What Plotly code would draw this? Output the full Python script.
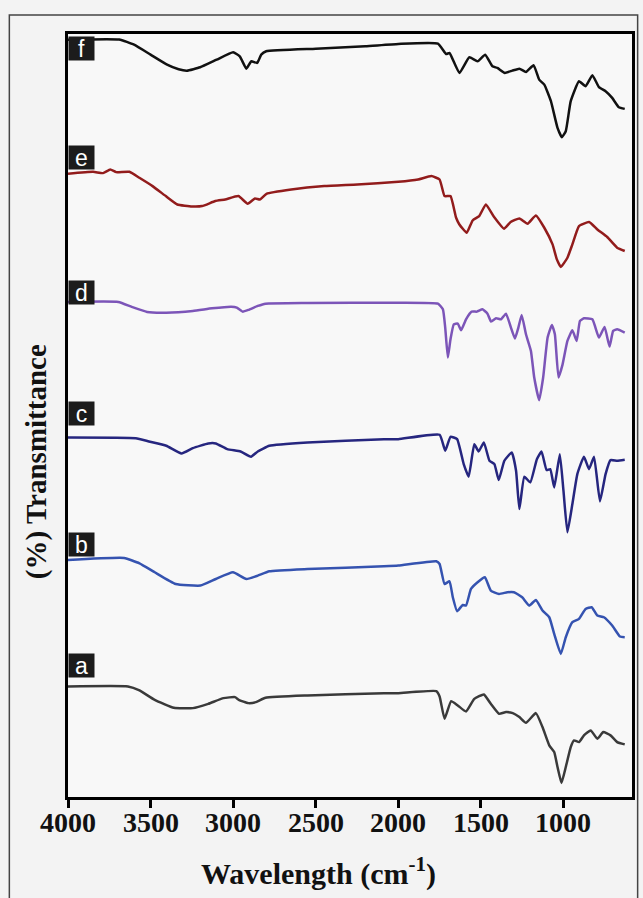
import plotly.graph_objects as go

# ---- data (wavenumber cm^-1, offset transmittance, arbitrary units) ----
wn_f = [4000, 3690, 3600, 3500, 3400, 3330, 3280, 3200, 3100, 3000, 2960, 2920, 2890, 2855, 2830, 2800,
        2500, 2200, 2000, 1760, 1710, 1690, 1630, 1570, 1520, 1474, 1430, 1400, 1355, 1310, 1267, 1227,
        1181, 1147, 1116, 1076, 1036, 1010, 986, 956, 906, 866, 825, 785, 745, 705, 665, 629]
t_f = [758.3, 758.5, 753.3, 743.3, 733.3, 728.7, 727.3, 730.7, 738.3, 745.7, 741.7, 729.3, 736.7, 735, 743.3, 746.7,
       749.3, 751.7, 754, 754.3, 744, 745, 725, 740.7, 736.7, 743.3, 731.7, 730, 725, 727.3, 729.3, 726,
       732.7, 718.3, 713.3, 696.7, 670, 660.7, 666.7, 696.7, 716.7, 711.7, 722.7, 710.7, 706.7, 700, 690.7, 689]

wn_e = [4000, 3848, 3788, 3744, 3708, 3628, 3568, 3488, 3408, 3338, 3248, 3188, 3108, 3048, 2968, 2912,
        2868, 2838, 2798, 2648, 2448, 2248, 2000, 1880, 1800, 1750, 1720, 1684, 1650, 1630, 1586, 1550,
        1510, 1470, 1420, 1360, 1320, 1267, 1217, 1167, 1116, 1066, 1040, 1016, 976, 946, 906, 845, 795,
        735, 675, 629]
t_e = [624, 626, 624.7, 628.3, 625.7, 626, 620, 611.7, 601.7, 593.3, 591.3, 591.7, 596.7, 598.3, 601.7, 594,
       599.3, 598.3, 604, 608.3, 611.7, 613.3, 616, 618.3, 621.7, 618.3, 601.7, 601.7, 580, 573.3, 565, 577.3,
       581.7, 593.3, 580.7, 569, 575.7, 579.3, 574, 582.3, 570, 553.3, 538.3, 530.7, 540, 553.3, 571.7, 575.7, 568.3,
       560.7, 550, 546.7]

wn_d = [4000, 3695, 3614, 3521, 3405, 3244, 3128, 3012, 2978, 2943, 2908, 2851, 2804, 2550, 2000, 1760,
        1730, 1716, 1700, 1684, 1664, 1640, 1620, 1590, 1556, 1524, 1490, 1460, 1438, 1408, 1378, 1348,
        1318, 1294, 1273, 1253, 1227, 1197, 1177, 1147, 1123, 1096, 1070, 1052, 1030, 1006, 976, 946,
        920, 900, 876, 825, 785, 751, 721, 699, 675, 629]
t_d = [495.7, 495.7, 490.7, 485.7, 485, 486.7, 489.3, 491, 490, 486, 487.7, 491.7, 494, 494.7, 495, 494,
       488.3, 470, 440, 458.3, 473.3, 474, 467.3, 478.3, 486, 486, 488.3, 484, 476, 479.3, 478.3, 484,
       470, 459, 470, 482.7, 463.3, 446.7, 420, 397.3, 420, 460, 472.7, 463.3, 420, 432.7, 456.7, 467.3,
       456.7, 476.7, 479.3, 478.3, 460, 470.7, 451, 466.7, 468.3, 465]

wn_c = [4000, 3590, 3510, 3405, 3313, 3244, 3151, 3105, 3036, 2955, 2892, 2851, 2781, 2550, 2087, 2000,
        1750, 1716, 1684, 1644, 1604, 1574, 1540, 1514, 1482, 1448, 1418, 1392, 1358, 1313, 1287, 1267,
        1237, 1201, 1161, 1133, 1102, 1080, 1056, 1022, 1000, 976, 946, 916, 876, 845, 815, 779, 745,
        715, 675, 629]
t_c = [360, 359.3, 356, 351.7, 344, 349.3, 354, 354, 348.3, 346, 340.7, 346, 351.7, 355, 358.3, 358.3,
       362.7, 346.7, 360.7, 358.3, 333.3, 320.7, 353.3, 346, 355, 336.7, 333.3, 317.3, 336.7, 345, 326.7, 288.3,
       320.7, 315, 338.3, 346, 327.3, 328.3, 310, 343.3, 306.7, 265, 293.3, 323.3, 340.7, 328.3, 340.7, 296, 323.3,
       337.3, 336.7, 337.7]

wn_b = [4000, 3660, 3567, 3475, 3348, 3198, 3105, 3001, 2920, 2851, 2781, 2550, 2087, 2000, 1770, 1750,
        1720, 1690, 1670, 1644, 1610, 1590, 1560, 1520, 1476, 1440, 1390, 1340, 1300, 1250, 1207, 1167,
        1127, 1086, 1056, 1016, 986, 946, 906, 866, 829, 795, 755, 705, 658, 629]
t_b = [237.3, 239.3, 234, 225, 213.3, 211.7, 218.3, 225, 218.3, 221.7, 226, 228.3, 231, 231.7, 236, 233.3,
       213.3, 216, 200, 186, 192.3, 191.7, 208.3, 215, 220, 206.7, 203.3, 205, 205, 200, 191.7, 197.3,
       186.7, 180, 163.3, 143.3, 160, 175, 178.3, 188.3, 190, 181.7, 180, 171.7, 160.7, 160]

wn_a = [4000, 3637, 3567, 3475, 3359, 3244, 3151, 3059, 2989, 2966, 2908, 2862, 2804, 2550, 2087, 2000,
        1770, 1750, 1720, 1680, 1640, 1590, 1540, 1482, 1440, 1390, 1348, 1307, 1267, 1227, 1167, 1127,
        1086, 1056, 1036, 1012, 986, 956, 936, 906, 876, 835, 795, 759, 715, 675, 629]
t_a = [110.7, 110.7, 106.7, 97.3, 89.3, 89, 93.3, 99, 100, 97.3, 94, 95, 99.3, 101.7, 104, 104,
       106, 100.7, 78.3, 96, 91.7, 85.7, 98.3, 102.7, 93.3, 83.3, 85, 84, 80, 74.3, 84, 70,
       51.7, 45, 30, 14, 30, 50, 56.7, 55, 61.7, 66.7, 58.3, 65, 61.7, 55, 52.7]

series = [
    ("a", wn_a, t_a, "#3a3a3a", 131.5),
    ("b", wn_b, t_b, "#3553b0", 253),
    ("c", wn_c, t_c, "#26267f", 384),
    ("d", wn_d, t_d, "#7c55b8", 505),
    ("e", wn_e, t_e, "#921c1c", 640),
    ("f", wn_f, t_f, "#111111", 749.5),
]

tick_vals = [4000, 3500, 3000, 2500, 2000, 1500, 1000]
tick_text = ["4000", "3500", "3000", "2500", "2000", "1500", "1000"]

serif_bold = dict(family="Liberation Serif", color="#111", weight="bold")

fig = go.Figure()
for name, xs, ys, col, _ in series:
    fig.add_trace(go.Scatter(x=xs, y=ys, mode="lines", name=name,
                             line=dict(color=col, width=2.5, shape="spline", smoothing=0.4),
                             showlegend=False, hoverinfo="skip"))

for name, xs, ys, col, ly in series:
    fig.add_annotation(x=4000, y=ly, xref="x", yref="y", text=name, showarrow=False,
                       xanchor="left", yanchor="middle", bgcolor="#1c1c1c",
                       width=25, height=23, borderpad=0, align="center",
                       font=dict(family="Liberation Sans", size=23, color="white"))

# tick labels placed close under the axis as in the reference
for v, t in zip(tick_vals, tick_text):
    fig.add_annotation(x=v, y=-0.033, xref="x", yref="paper", text=t, showarrow=False,
                       xanchor="center", yanchor="middle", font=dict(size=28, **serif_bold))

# axis titles
fig.add_annotation(x=0.444, y=-0.097, xref="paper", yref="paper", text="Wavelength (cm<sup>-1</sup>)",
                   showarrow=False, xanchor="center", yanchor="middle", font=dict(size=30, **serif_bold))
fig.add_annotation(x=-0.057, y=0.44, xref="paper", yref="paper", text="(%) Transmittance",
                   textangle=-90, showarrow=False, xanchor="center", yanchor="middle",
                   font=dict(size=29, **serif_bold))

# outer figure frame
fig.add_shape(type="rect", xref="paper", yref="paper", x0=-0.104, x1=1.01, y0=-0.2, y1=1.025,
              line=dict(color="#444", width=1.5), fillcolor="rgba(0,0,0,0)", layer="below")

fig.update_layout(
    width=643, height=898,
    margin=dict(l=68, r=8, t=34, b=101),
    paper_bgcolor="#f3f3f3", plot_bgcolor="#f8f8f8",
    xaxis=dict(range=[4000, 585], tickvals=tick_vals, showticklabels=False,
               ticks="outside", ticklen=8, tickwidth=2.5, tickcolor="black",
               showline=True, linewidth=3, linecolor="black", mirror=True,
               showgrid=False, zeroline=False),
    yaxis=dict(range=[0, 764], showticklabels=False, ticks="", showgrid=False, zeroline=False,
               showline=True, linewidth=3, linecolor="black", mirror=True),
)

fig.write_html("out.html")
